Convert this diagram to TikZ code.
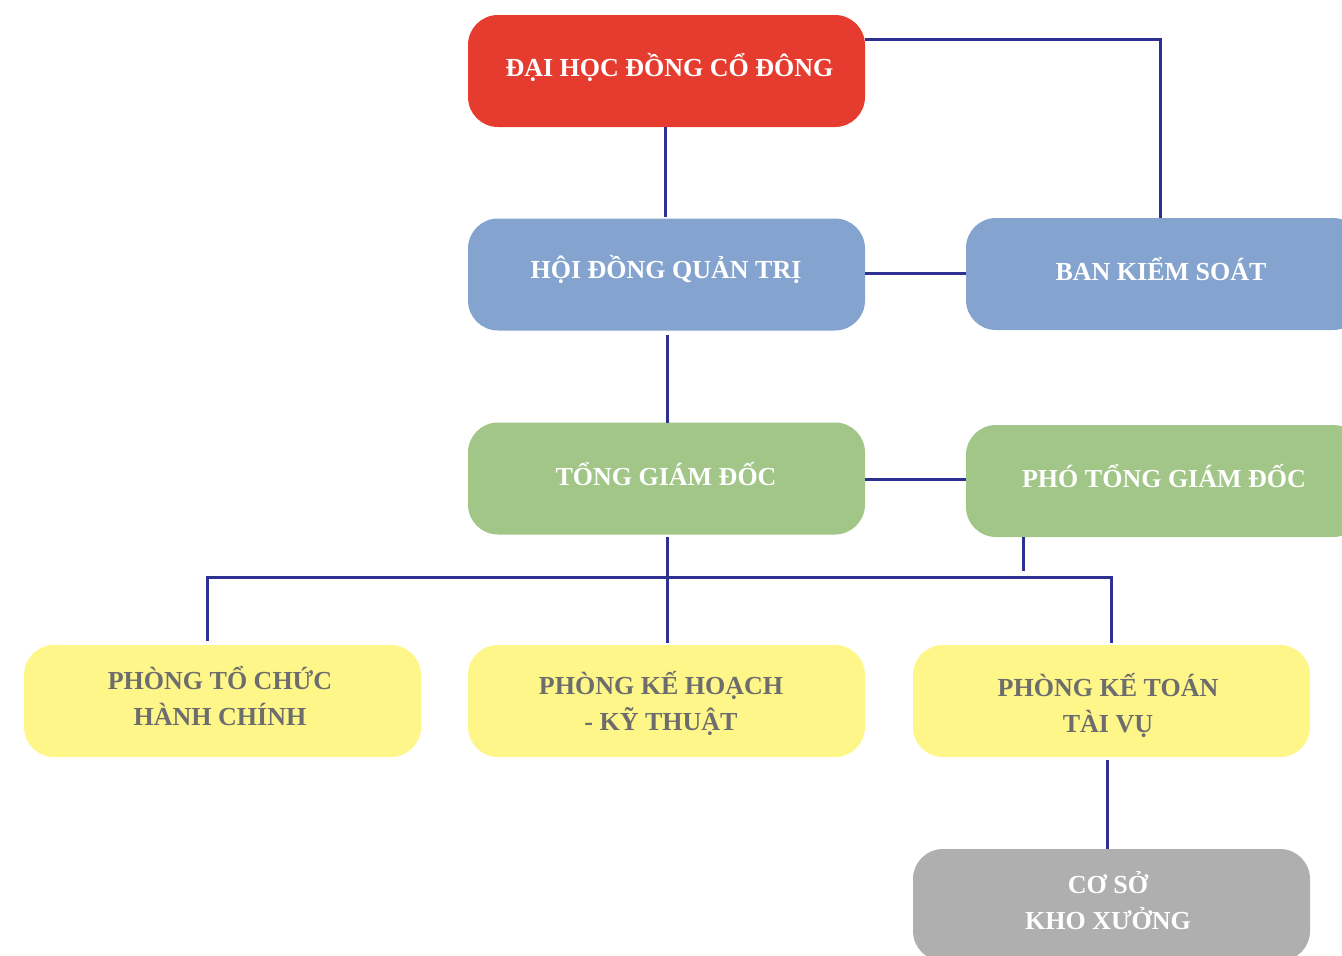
\documentclass[tikz,border=0pt]{standalone}
\usepackage{fontspec}
\setmainfont{Liberation Serif}
\definecolor{cred}{RGB}{230,60,47}
\definecolor{cblue}{RGB}{132,164,207}
\definecolor{cgreen}{RGB}{161,198,135}
\definecolor{cyellow}{RGB}{255,246,138}
\definecolor{cgray}{RGB}{175,175,175}
\definecolor{cline}{RGB}{46,49,146}
\definecolor{ctext}{RGB}{109,109,109}
\begin{document}
\begin{tikzpicture}[x=1pt,y=-1pt,
  box/.style={rectangle, rounded corners=30pt, minimum width=397pt, minimum height=112pt,
    inner sep=0pt},
  txt/.style={anchor=base, inner sep=0pt, align=center, text=white,
    font=\bfseries\fontsize{26}{36}\selectfont},
  dtxt/.style={txt, text=ctext},
  conn/.style={draw=cline, line width=3pt}]
\useasboundingbox (0,0) rectangle (1342,956);
\clip (0,0) rectangle (1342,956);
\node[box, fill=cred] (dhcd) at (666.5,71) {};
\node[box, fill=cblue] (hdqt) at (666.5,274.5) {};
\node[box, fill=cblue] (bks) at (1164.5,274) {};
\node[box, fill=cgreen] (tgd) at (666.5,478.5) {};
\node[box, fill=cgreen] (ptgd) at (1164.5,481) {};
\node[box, fill=cyellow] (tchc) at (222.5,701) {};
\node[box, fill=cyellow] (khkt) at (666.5,701) {};
\node[box, fill=cyellow] (kttv) at (1111.5,701) {};
\node[box, fill=cgray] (cskx) at (1111.5,905) {};
% connectors
\coordinate (c1) at (1160,39);
\draw[conn] (dhcd.east |- c1) -- (c1) -- (c1 |- bks.north);
\draw[conn] (665,127) -- (665,217);
\draw[conn] (hdqt.east |- 0,273) -- (bks.west |- 0,273);
\draw[conn] (667,335) -- (667,423);
\draw[conn] (tgd.east |- 0,479) -- (ptgd.west |- 0,479);
\draw[conn] (667,537) -- (667,643);
\draw[conn] (207,641) -- (207,577) -- (1111,577) -- (1111,643);
\draw[conn] (1023,537) -- (1023,571);
\draw[conn] (1107,760) -- (1107,849);
% texts
\node[txt] (dhcd-t) at (669.5,76.2) {ĐẠI HỌC ĐỒNG CỔ ĐÔNG};
\node[txt] (hdqt-t) at (666,278.6) {HỘI ĐỒNG QUẢN TRỊ};
\node[txt] (bks-t) at (1161,280.6) {BAN KIỂM SOÁT};
\node[txt] (tgd-t) at (666,485.6) {TỔNG GIÁM ĐỐC};
\node[txt] (ptgd-t) at (1164,487.6) {PHÓ TỔNG GIÁM ĐỐC};
\node[dtxt] (tchc-t) at (220,725.6) {PHÒNG TỔ CHỨC\\HÀNH CHÍNH};
\node[dtxt] (khkt-t) at (661,730.6) {PHÒNG KẾ HOẠCH\\- KỸ THUẬT};
\node[dtxt] (kttv-t) at (1108,732.6) {PHÒNG KẾ TOÁN\\TÀI VỤ};
\node[txt] (cskx-t) at (1108,929) {CƠ SỞ\\KHO XƯỞNG};
\end{tikzpicture}
\end{document}
